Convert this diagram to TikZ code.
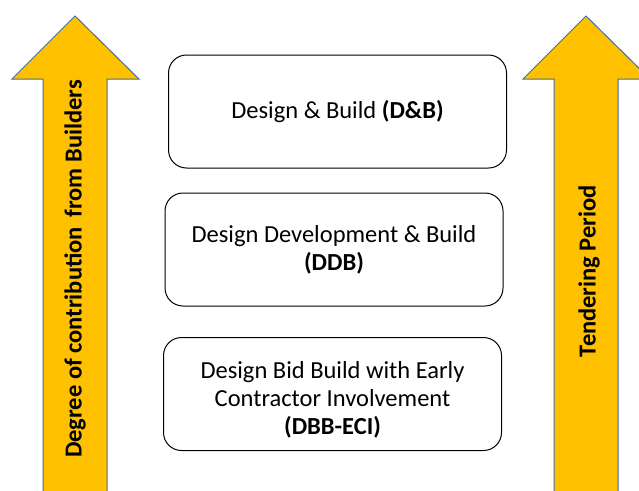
\documentclass[tikz,border=0pt]{standalone}
\usepackage{fontspec}
\setmainfont{Carlito}
\usepackage{tikz}

\definecolor{arrowfill}{HTML}{FFC000}
\definecolor{arrowline}{HTML}{41719C}

\tikzset{
  bigarrow/.style = {fill = arrowfill, draw = arrowline, line width = 1pt},
  method/.style = {draw, rounded corners = 18pt, line width = 1pt,
                   minimum width = 338pt, minimum height = 113pt,
                   align = center, font = \fontsize{24.5}{28}\selectfont},
  arrowtext/.style = {rotate = 90, font = \bfseries\fontsize{24.5}{28}\selectfont}
}

\begin{document}
\begin{tikzpicture}[x = 1pt, y = -1pt]
        \useasboundingbox (0,0) rectangle (639,490);
        \clip (0,0) rectangle (639,490);
        % the two big arrows
        \draw[bigarrow] (43,500) -- (43,79) -- (12,79) -- (75,16) --
                        (139,79) -- (107,79) -- (107,500);
        \draw[bigarrow] (554,500) -- (554,79) -- (523,79) -- (586,16) --
                        (650,79) -- (618,79) -- (618,500);
        \node[arrowtext] (builders) at (75,269) {Degree of contribution\, from Builders};
        \node[arrowtext] (tender) at (589,271) {Tendering Period};
        % the three methods
        \node[method] (db) at (337.5,111.5) {Design \& Build \textbf{(D\&B)}};
        \node[method] (ddb) at (334,249.5) {Design Development \& Build\\ \textbf{(DDB)}};
        \node[method] (dbb) at (332.5,394) {\rule{0pt}{29pt}Design Bid Build with Early\\
                Contractor Involvement\\ \textbf{(DBB-ECI)}};
      \end{tikzpicture}
\end{document}
